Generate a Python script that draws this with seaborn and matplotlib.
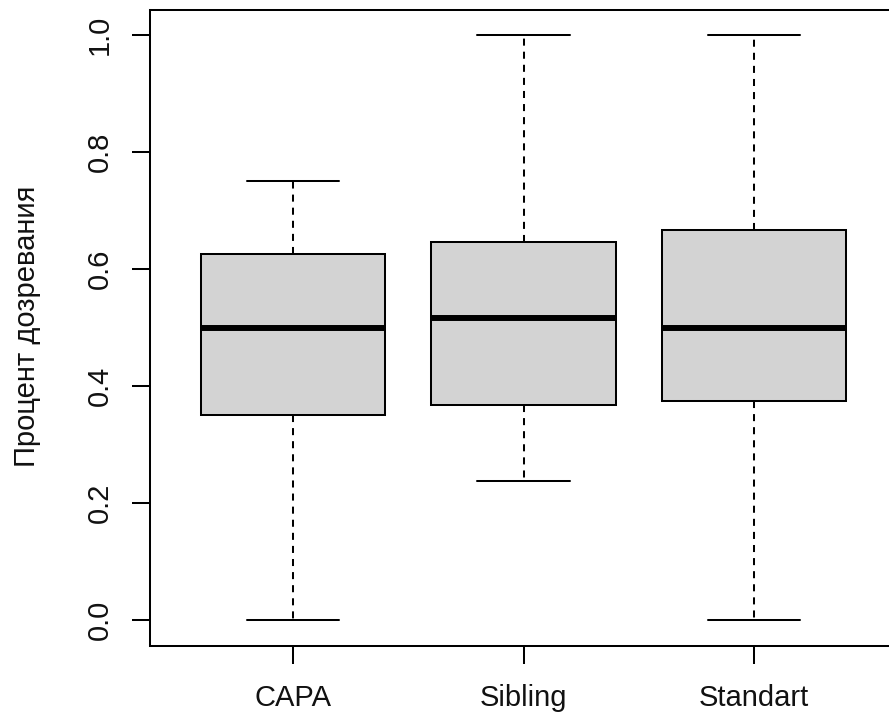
import numpy as np
import pandas as pd
import matplotlib
matplotlib.use("Agg")
import matplotlib.pyplot as plt
import seaborn as sns

# Five-number summaries per group: min, Q1, median, Q3, max
groups = ["CAPA", "Sibling", "Standart"]
capa = [0.0, 0.35, 0.5, 0.625, 0.75]
sibling = [0.238, 0.368, 0.517, 0.646, 1.0]
standart = [0.0, 0.375, 0.5, 0.667, 1.0]
y_ticks = [0.0, 0.2, 0.4, 0.6, 0.8, 1.0]
y_label = "Процент дозревания"

df = pd.DataFrame({
    "group": np.repeat(groups, 5),
    "value": capa + sibling + standart,
})

sns.set_theme(style="white")
plt.rcParams["font.family"] = ["Liberation Sans", "DejaVu Sans"]

W, H = 889, 720
fig = plt.figure(figsize=(W / 100, H / 100), dpi=100)
fig.patch.set_facecolor("white")
# plot region: left 150px, top 10px, bottom 646px, right edge runs past the canvas
ax = fig.add_axes([150 / W, 1 - 646 / H, 747 / W, 636 / H])

lw = 1.45
sns.boxplot(
    data=df, x="group", y="value", order=groups,
    whis=(0, 100), width=0.8, color="#D3D3D3", saturation=1,
    linecolor="black", linewidth=lw,
    medianprops=dict(linewidth=4.3, color="black", solid_capstyle="butt"),
    whiskerprops=dict(linestyle=(0, (3.5, 3.0)), linewidth=lw, color="black"),
    capprops=dict(linewidth=lw, color="black"),
    boxprops=dict(edgecolor="black", linewidth=lw),
    ax=ax,
)

ax.set_xlim(-0.62, 2.62)
ax.set_ylim(-0.0444, 1.043)
ax.set_facecolor("white")

for side in ["left", "right", "top", "bottom"]:
    ax.spines[side].set_visible(True)
    ax.spines[side].set_color("black")
    ax.spines[side].set_linewidth(lw)

ax.set_xticks(range(len(groups)))
ax.set_xticklabels(groups)
ax.set_yticks(y_ticks)
ax.set_yticklabels([f"{v:.1f}" for v in y_ticks], rotation=90, va="center")

ax.tick_params(axis="both", which="major", direction="out", bottom=True, left=True,
               length=13, width=lw, color="black", labelsize=21, labelcolor="#111111")
ax.tick_params(axis="x", pad=14)
ax.tick_params(axis="y", pad=13)

ax.set_xlabel("")
ax.set_ylabel(y_label, fontsize=21, color="#111111")
ax.yaxis.set_label_coords(-0.146, 0.503)

fig.savefig("out.png", dpi=100)
